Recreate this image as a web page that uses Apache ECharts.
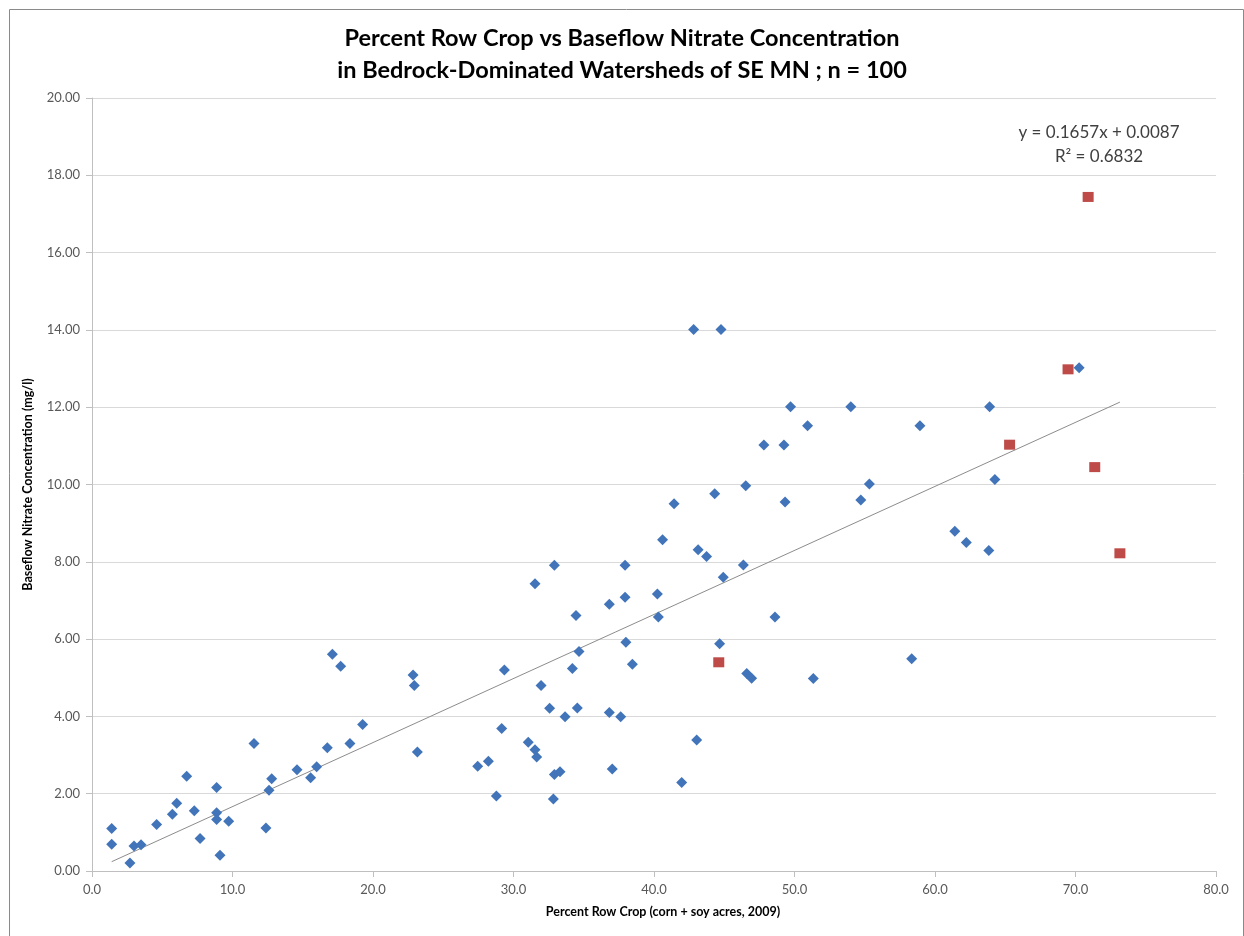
<!DOCTYPE html>
<html>
<head>
<meta charset="utf-8">
<script src="https://cdn.jsdelivr.net/npm/echarts@6/dist/echarts.min.js"></script>
<style>
html,body{margin:0;padding:0;background:#fff;}
#chart{width:1244px;height:936px;}
</style>
</head>
<body>
<div id="chart"></div>
<script>
// ---- data ----
const titleLines = ["Percent Row Crop vs Baseflow Nitrate Concentration", "in Bedrock-Dominated Watersheds of SE MN ; n = 100"];
const xAxisName = "Percent Row Crop (corn + soy acres, 2009)";
const yAxisName = "Baseflow Nitrate Concentration (mg/l)";
const equationText = "y = 0.1657x + 0.0087";
const r2Text = "R\u00b2 = 0.6832";
const trendSlope = 0.1657;
const trendIntercept = 0.0087;

const blueX = [
  1.40,1.40,2.70,2.99,3.49,4.60,5.72,6.03,6.74,7.28,7.69,8.87,8.87,8.87,9.11,9.73,
  11.53,12.38,12.60,12.79,14.59,15.56,15.99,16.75,17.11,17.70,18.36,19.26,22.85,22.94,23.16,
  32.91,37.94,31.53,36.82,37.94,40.24,34.45,40.31,48.61,46.36,44.93,38.00,44.67,34.66,34.19,
  38.46,29.35,31.96,46.60,46.95,32.57,34.54,33.67,36.82,37.63,29.16,31.05,31.53,31.65,27.45,
  28.21,32.91,33.31,37.03,43.04,41.97,28.78,32.84,
  42.82,44.77,70.26,49.72,54.01,63.89,50.93,58.93,47.82,49.25,64.26,46.53,55.33,54.72,44.32,
  49.33,41.43,40.61,43.14,43.74,61.41,62.23,63.83,51.34,58.34
];
const blueY = [
  1.10,0.69,0.21,0.65,0.68,1.20,1.47,1.75,2.45,1.56,0.84,2.16,1.51,1.33,0.41,1.29,
  3.30,1.11,2.09,2.39,2.62,2.41,2.70,3.19,5.61,5.30,3.30,3.79,5.07,4.80,3.08,
  7.91,7.91,7.43,6.90,7.08,7.17,6.61,6.57,6.57,7.92,7.60,5.92,5.88,5.68,5.24,
  5.35,5.20,4.80,5.11,4.99,4.21,4.22,3.99,4.10,3.99,3.69,3.33,3.14,2.95,2.71,
  2.84,2.50,2.57,2.64,3.39,2.29,1.94,1.86,
  14.01,14.01,13.02,12.01,12.01,12.01,11.52,11.52,11.02,11.02,10.13,9.97,10.01,9.60,9.76,
  9.55,9.50,8.57,8.31,8.14,8.79,8.50,8.29,4.98,5.49
];
const redX = [44.61,65.31,69.47,70.90,71.37,73.16];
const redY = [5.40,11.03,12.98,17.44,10.45,8.22];

const xTicks = {min:0, max:80, interval:10};
const yTicks = {min:0, max:20, interval:2};

// ---- build ----
const bluePts = blueX.map((x,i)=>[x, blueY[i]]);
const redPts = redX.map((x,i)=>[x, redY[i]]);
const allX = blueX.concat(redX);
const xLo = Math.min(...allX), xHi = Math.max(...allX);
const trendPts = [[xLo, trendSlope*xLo+trendIntercept],[xHi, trendSlope*xHi+trendIntercept]];

const FONT = 'Lato, "Open Sans", sans-serif';
const chart = echarts.init(document.getElementById('chart'), null, {renderer:'canvas'});
chart.setOption({
  backgroundColor:'#ffffff',
  animation:false,
  title:{
    text: titleLines.join('\n'),
    left:'center', top:17,
    textStyle:{fontFamily:FONT, fontSize:23.5, fontWeight:'bold', color:'#000', lineHeight:32}
  },
  grid:{left:92, right:28, top:98, bottom:65},
  xAxis:{
    type:'value', min:xTicks.min, max:xTicks.max, interval:xTicks.interval,
    axisLine:{show:true, onZero:false, lineStyle:{color:'#bfbfbf', width:1}},
    axisTick:{show:true, inside:false, length:6, lineStyle:{color:'#bfbfbf'}},
    axisLabel:{formatter:v=>v.toFixed(1), color:'#595959', fontFamily:FONT, fontSize:13, margin:12},
    splitLine:{show:false}
  },
  yAxis:{
    type:'value', min:yTicks.min, max:yTicks.max, interval:yTicks.interval,
    name:yAxisName, nameLocation:'middle', nameGap:58, nameRotate:90,
    nameTextStyle:{fontFamily:FONT, fontSize:12.5, fontWeight:'bold', color:'#000'},
    axisLine:{show:true, onZero:false, lineStyle:{color:'#bfbfbf', width:1}},
    axisTick:{show:true, inside:false, length:6, lineStyle:{color:'#bfbfbf'}},
    axisLabel:{formatter:v=>v.toFixed(2), color:'#595959', fontFamily:FONT, fontSize:13, margin:12},
    splitLine:{show:true, lineStyle:{color:'#d9d9d9', width:1}}
  },
  series:[
    {type:'line', data:trendPts, symbol:'none', silent:true, z:1,
     lineStyle:{color:'#8c8c8c', width:1}},
    {type:'scatter', data:bluePts, symbol:'diamond', symbolSize:11, z:3,
     itemStyle:{color:'#4274BA', opacity:1}},
    {type:'scatter', data:redPts, symbol:'rect', symbolSize:[11,10], z:3,
     itemStyle:{color:'#BE4B48', opacity:1}}
  ],
  graphic:[
    {type:'rect', left:7, top:7, silent:true, z:-1,
     shape:{x:0.5, y:0.5, width:1234, height:960},
     style:{fill:'none', stroke:'#8a8a8a', lineWidth:1}},
    {type:'text', x:663, y:912, silent:true,
     style:{text:xAxisName, fontFamily:FONT, fontSize:12.5, fontWeight:'bold', fill:'#000', align:'center', verticalAlign:'middle'}},
    {type:'text', x:1099, y:133, silent:true,
     style:{text:equationText, fontFamily:FONT, fontSize:17, fill:'#404040', align:'center', verticalAlign:'middle'}},
    {type:'text', x:1099, y:157, silent:true,
     style:{text:r2Text, fontFamily:FONT, fontSize:17, fill:'#404040', align:'center', verticalAlign:'middle'}}
  ]
});
</script>
</body>
</html>
